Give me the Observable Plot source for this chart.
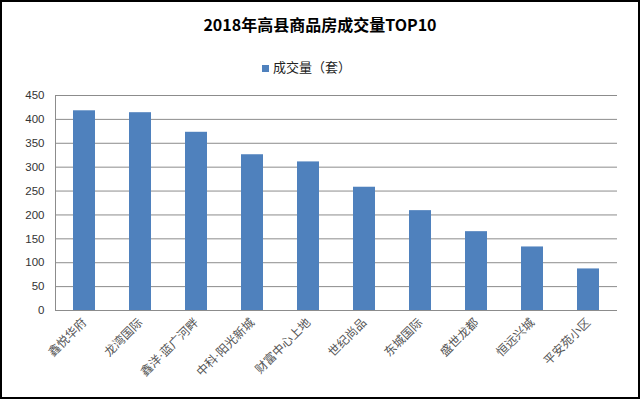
<!DOCTYPE html>
<html>
<head>
<meta charset="utf-8">
<script src="https://cdn.jsdelivr.net/npm/d3@7"></script>
<script src="https://cdn.jsdelivr.net/npm/@observablehq/plot@0.6"></script>
<style>
  html, body { margin: 0; padding: 0; background: #fff; }
  #wrap { position: relative; width: 640px; height: 399px; overflow: hidden; background: #fff; }
  #frame { position: absolute; left: 0; top: 0; width: 640px; height: 399px; box-sizing: border-box; border: 2px solid #000; pointer-events: none; z-index: 5; }
  #header { position: relative; width: 640px; height: 80px; }
  #title { position: absolute; left: 0; width: 640px; top: 12px; text-align: center; font: bold 16px "Noto Sans CJK SC", "Liberation Sans", sans-serif; color: #000; line-height: 24px; }
  #legend { position: absolute; left: 262px; top: 57px; font: 13px "Noto Sans CJK SC", sans-serif; color: #222; line-height: 20px; display: flex; align-items: center; }
  #legend .sw { width: 7px; height: 7px; background: #4F81BD; margin-right: 4px; margin-top: 3px; }
  #chart svg { display: block; }
</style>
</head>
<body>
<div id="wrap">
  <div id="header">
    <div id="title"></div>
    <div id="legend"><span class="sw"></span><span id="legendText"></span></div>
  </div>
  <div id="chart"></div>
  <div id="frame"></div>
</div>
<script>
const titleText = "2018年高县商品房成交量TOP10";
const seriesName = "成交量（套）";
const names = ["鑫悦华府", "龙湾国际", "鑫洋·蓝广河畔", "中科·阳光新城", "财富中心上地", "世纪尚品", "东城国际", "盛世龙都", "恒远兴城", "平安苑小区"];
const values = [418, 414, 373, 326, 311, 258, 209, 165, 133, 87];
const yTicks = [0, 50, 100, 150, 200, 250, 300, 350, 400, 450];

document.getElementById("title").textContent = titleText;
document.getElementById("legendText").textContent = seriesName;

const data = names.map((name, i) => ({name, value: values[i]}));

const chart = Plot.plot({
  width: 640,
  height: 319,
  marginTop: 15,
  marginLeft: 55,
  marginRight: 23,
  marginBottom: 89,
  style: {background: "transparent", overflow: "visible"},
  x: {domain: names, paddingInner: 0.6, paddingOuter: 0.3, label: null},
  y: {domain: [0, 450], label: null},
  marks: [
    Plot.ruleY(yTicks, {stroke: "#8c8c8c", strokeWidth: 1}),
    Plot.barY(data, {x: "name", y: "value", fill: "#4F81BD"}),
    Plot.frame({anchor: "left", stroke: "#8c8c8c"}),
    Plot.axisY(yTicks, {tickSize: 0, tickPadding: 11, fontSize: 11.5, fill: "#333", fontFamily: "'Liberation Sans', Arial, sans-serif", label: null}),
    Plot.axisX({tickSize: 0, tickPadding: 10, tickRotate: -45, fontSize: 12, fill: "#555", fontFamily: "'Liberation Serif', 'Noto Sans CJK SC', sans-serif", label: null})
  ]
});
document.getElementById("chart").appendChild(chart);
</script>
</body>
</html>
